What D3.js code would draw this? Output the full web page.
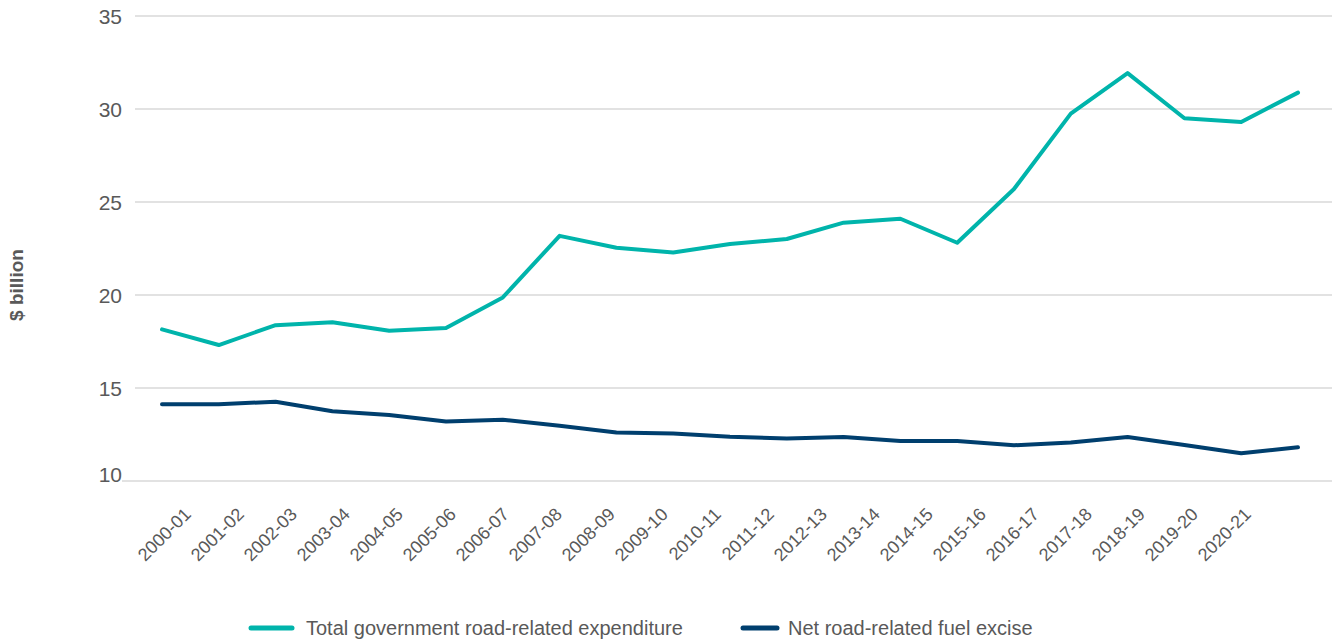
<!DOCTYPE html>
<html>
<head>
<meta charset="utf-8">
<script src="https://cdn.jsdelivr.net/npm/d3@7"></script>
<style>
  html, body { margin: 0; padding: 0; background: #ffffff; }
  svg { display: block; }
  text { font-family: "Liberation Sans", Arial, Helvetica, sans-serif; }
</style>
</head>
<body>
<svg id="chart" width="1332" height="642"></svg>
<script>
// ---- Data ----
const categories = ["2000-01","2001-02","2002-03","2003-04","2004-05","2005-06","2006-07",
  "2007-08","2008-09","2009-10","2010-11","2011-12","2012-13","2013-14","2014-15",
  "2015-16","2016-17","2017-18","2018-19","2019-20","2020-21"];
const totalExpenditure = [18.15,17.31,18.38,18.54,18.08,18.23,19.87,23.18,22.54,22.29,22.74,
  23.01,23.89,24.10,22.81,25.70,29.75,31.93,29.50,29.30,30.88];
const fuelExcise = [14.12,14.13,14.26,13.75,13.55,13.20,13.29,12.97,12.61,12.55,12.38,
  12.29,12.37,12.15,12.15,11.92,12.07,12.37,11.94,11.49,11.81];
const yTicks = [10,15,20,25,30,35];
const seriesNames = ["Total government road-related expenditure","Net road-related fuel excise"];
const seriesColors = ["#00b4ab","#003f6e"];
const yLabel = "$ billion";

// ---- Layout ----
const svg = d3.select("#chart");
const plotLeft = 135, plotRight = 1332, plotTop = 16, plotBottom = 481;

const x = d3.scalePoint().domain(categories).range([162, 1298]);
const xLabel = d3.scalePoint().domain(categories).range([187, 1247]);
const y = d3.scaleLinear().domain([10, 35]).range([plotBottom, plotTop]);

// gridlines
const grid = svg.append("g");
grid.selectAll("line").data(yTicks).join("line")
  .attr("x1", d => d === 10 ? 122 : plotLeft)
  .attr("x2", plotRight)
  .attr("y1", d => y(d)).attr("y2", d => y(d))
  .attr("stroke", "#d9d9d9").attr("stroke-width", 1.5);

// y axis labels
const yAxis = d3.axisLeft(y).tickValues(yTicks).tickSize(0).tickPadding(0);
const yg = svg.append("g").attr("transform", "translate(122,0)").call(yAxis);
yg.select(".domain").remove();
yg.selectAll("text")
  .attr("fill", "#595959")
  .style("font-size", "21px")
  .attr("dy", d => d === 10 ? "0.0em" : "0.35em");

// y title
svg.append("text")
  .attr("transform", "translate(23,285) rotate(-90)")
  .attr("text-anchor", "middle")
  .attr("fill", "#595959")
  .style("font-size", "19px")
  .style("font-weight", "bold")
  .text(yLabel);

// x axis labels
const xAxis = d3.axisBottom(xLabel).tickSize(0).tickPadding(0);
const xg = svg.append("g").attr("transform", "translate(0,511)").call(xAxis);
xg.select(".domain").remove();
xg.selectAll("text")
  .attr("fill", "#595959")
  .style("font-size", "18px")
  .attr("y", 0)
  .attr("dy", "0.35em")
  .attr("text-anchor", "end")
  .attr("transform", "rotate(-45)");

// lines
const line = d3.line().x((d, i) => x(categories[i])).y(d => y(d));
[totalExpenditure, fuelExcise].forEach((s, k) => {
  svg.append("path")
    .datum(s)
    .attr("d", line)
    .attr("fill", "none")
    .attr("stroke", seriesColors[k])
    .attr("stroke-width", 4)
    .attr("stroke-linejoin", "round")
    .attr("stroke-linecap", "round");
});

// legend
const legendItems = [
  {name: seriesNames[0], color: seriesColors[0], x1: 251, x2: 292, tx: 306},
  {name: seriesNames[1], color: seriesColors[1], x1: 743, x2: 777, tx: 788}
];
const lg = svg.append("g");
legendItems.forEach(it => {
  lg.append("line").attr("x1", it.x1).attr("x2", it.x2)
    .attr("y1", 628).attr("y2", 628)
    .attr("stroke", it.color).attr("stroke-width", 5).attr("stroke-linecap", "round");
  lg.append("text").attr("x", it.tx).attr("y", 628).attr("dy", "0.35em")
    .attr("fill", "#595959").style("font-size", "20px").text(it.name);
});
</script>
</body>
</html>
